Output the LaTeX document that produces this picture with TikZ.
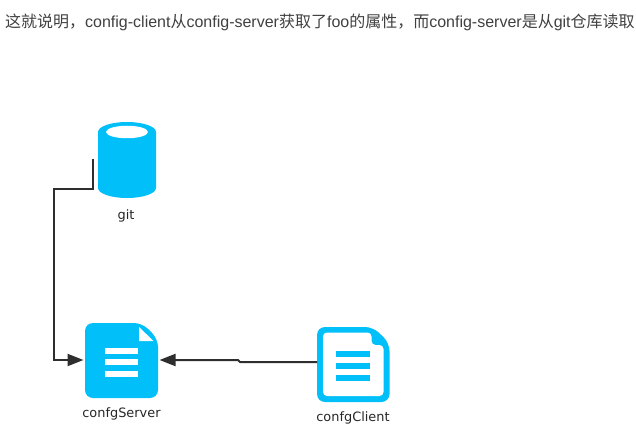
\documentclass[tikz,border=0pt]{standalone}
\usepackage{fontspec}
\setmainfont{Liberation Sans}
\newfontfamily\cjk{Noto Sans CJK SC}
\newfontfamily\labelfont{DejaVu Sans}
\usetikzlibrary{arrows.meta,shapes.geometric}
\definecolor{iconblue}{HTML}{00BFF9}
\definecolor{linegray}{HTML}{2E2E2E}
\definecolor{textgray}{HTML}{404040}
\tikzset{
	flow/.style={draw=linegray,line width=2pt,shorten >=1.5pt,-{Triangle[length=16pt,width=12pt]}},
	iconbox/.style={inner sep=0pt,outer sep=0pt,minimum width=#1},
	iconlabel/.style={font=\labelfont\fontsize{12.9}{15}\selectfont,text=black!85,anchor=base}
}
\begin{document}
\begin{tikzpicture}[x=1pt,y=-1pt]
	\useasboundingbox (0,0) rectangle (636,446);
	\node [anchor=base west,inner sep=0pt,text=textgray,font=\fontsize{16}{20}\selectfont] (intro) at (5,28) {{\cjk 这就说明，}config-client{\cjk 从}config-server{\cjk 获取了}foo{\cjk 的属性，而}config-server{\cjk 是从}git{\cjk 仓库读取}};
	% git
	\fill [iconblue] (98,132) arc [start angle=180,end angle=0,x radius=29pt,y radius=10pt] -- (156,188) arc [start angle=0,end angle=-180,x radius=29pt,y radius=10pt] -- cycle;
	\node [ellipse,fill=white,inner sep=0pt,minimum width=42pt,minimum height=12.5pt] (gitTop) at (127,132) {};
	\node [iconbox=58pt,minimum height=76pt] (git) at (127,160) {};
	\node [iconlabel] (gitText) at (126,219) {git};
	% confgServer
	\fill [iconblue,rounded corners=8pt] (85,323) -- (142,323) -- (158,339) -- (158,398) -- (85,398) -- cycle;
	\fill [white] (139,327) -- (153.5,341) -- (139,341) -- cycle;
	\foreach \y in {347.5,359,371}
		\fill [white] (104.5,\y) rectangle (137.5,\y+6);
	\node [iconbox=73pt,minimum height=76pt] (confgServer) at (121.5,360) {};
	\node [iconlabel] (serverText) at (121.5,417) {confgServer};
	% confgClient
	\fill [iconblue,rounded corners=8pt] (317,327) -- (373,327) -- (389.5,343) -- (389.5,402) -- (317,402) -- cycle;
	\fill [white,rounded corners=4pt] (323,332.5) -- (371.5,332.5) -- (371.5,345) -- (383.5,345) -- (383.5,396) -- (323,396) -- cycle;
	\foreach \y in {351,363,375}
		\fill [iconblue] (336,\y) rectangle (370,\y+6);
	\node [iconbox=72.5pt,minimum height=76pt] (confgClient) at (353.25,364) {};
	\node [iconlabel] (clientText) at (353,421) {confgClient};
	% connectors
	\draw [flow] ([xshift=-5pt,yshift=1pt]git.west) -- ++(0,30) -- ++(-39,0) |- (confgServer.west);
	\draw [flow] ([yshift=2pt]confgClient.west) -- (240,362) -- (238,360) -- (confgServer.east);
\end{tikzpicture}
\end{document}
